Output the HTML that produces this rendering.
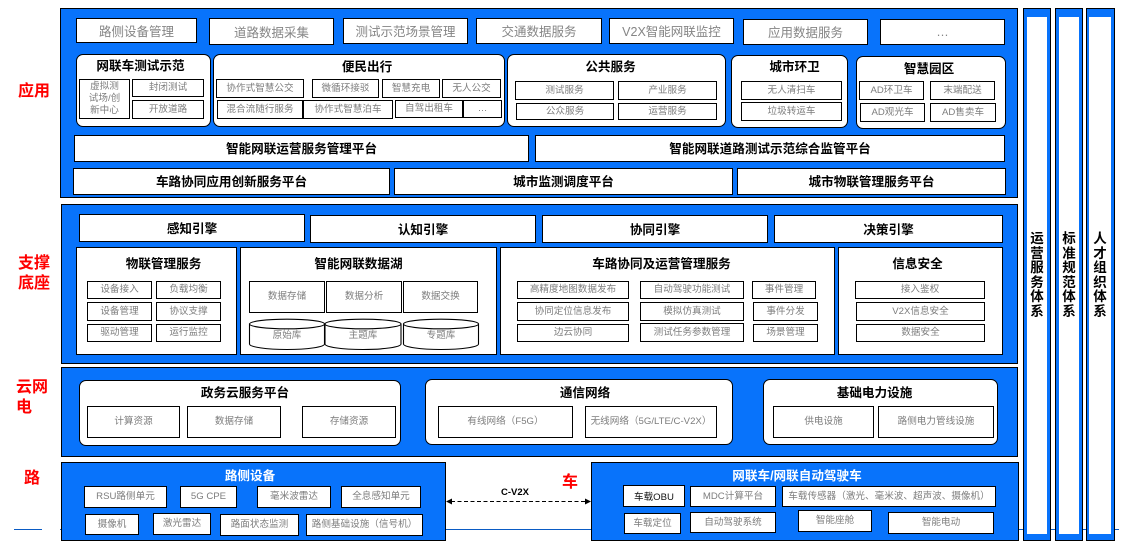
<!DOCTYPE html>
<html lang="zh">
<head>
<meta charset="utf-8">
<style>
html,body{margin:0;padding:0;background:#fff}
#p{position:relative;width:1134px;height:549px;overflow:hidden;background:#fff;font-family:"Liberation Sans","Noto Sans CJK SC",sans-serif}
#p div{position:absolute;box-sizing:border-box}
.pn{background:#0873fb;border:1.3px solid #000}
.b,.g,.s,.k{background:#fff;border:1.3px solid #000;display:flex;align-items:center;justify-content:center;text-align:center;white-space:nowrap}
.g{color:#858585;font-size:12.5px;padding-bottom:1px}
.s{color:#7d7d7d;font-size:9.6px;line-height:12px}
.k{color:#111;font-size:9.6px}
.b{color:#000;font-size:12.6px;font-weight:bold;padding-bottom:2px}
.c{background:#fff;border:1.2px solid #000;border-radius:7px}
.t{color:#000;font-size:12.6px;font-weight:bold;text-align:center;line-height:16px;height:16px;white-space:nowrap}
.w{color:#fff}
.r{color:#f00;font-size:16px;font-weight:bold;line-height:20px;white-space:nowrap}
.col{background:#fff}
.v{color:#000;font-size:13.5px;font-weight:bold;line-height:14.5px;text-align:center;width:20px}
.l{background:#0a5bc4;height:1px}
.cy{color:#7d7d7d;font-size:9.6px;text-align:center;line-height:12px;height:12px}
</style>
</head>
<body>
<div id="p">
<div class="l" style="left:14px;top:529px;width:28px"></div>
<div class="l" style="left:60px;top:529px;width:2px"></div>
<div class="l" style="left:445px;top:529px;width:147px"></div>
<div class="l" style="left:1017px;top:529px;width:102px"></div>

<div class="r" style="left:18px;top:82px">应用</div>
<div class="r" style="left:18px;top:254px">支撑</div>
<div class="r" style="left:18px;top:274px">底座</div>
<div class="r" style="left:16px;top:378px">云网</div>
<div class="r" style="left:16px;top:398px">电</div>
<div class="r" style="left:24px;top:469px">路</div>
<div class="r" style="left:562px;top:473px">车</div>

<!-- 应用 -->
<div class="pn" style="left:60px;top:8px;width:958px;height:190px"></div>
<div class="g" style="left:76px;top:18px;width:121px;height:25px">路侧设备管理</div>
<div class="g" style="left:209px;top:18px;width:125px;height:27px">道路数据采集</div>
<div class="g" style="left:343px;top:18px;width:125px;height:26px">测试示范场景管理</div>
<div class="g" style="left:476px;top:18px;width:126px;height:26px">交通数据服务</div>
<div class="g" style="left:609px;top:18px;width:125px;height:26px">V2X智能网联监控</div>
<div class="g" style="left:743px;top:19px;width:125px;height:26px">应用数据服务</div>
<div class="g" style="left:880px;top:19px;width:125px;height:26px">…</div>

<div class="c" style="left:76px;top:54px;width:135px;height:73px"></div>
<div class="t" style="left:73px;top:58px;width:135px">网联车测试示范</div>
<div class="s" style="left:79px;top:79px;width:51px;height:40px">虚拟测<br>试场/创<br>新中心</div>
<div class="s" style="left:132px;top:79px;width:72px;height:18px">封闭测试</div>
<div class="s" style="left:132px;top:100px;width:72px;height:19px">开放道路</div>

<div class="c" style="left:213px;top:54px;width:292px;height:73px"></div>
<div class="t" style="left:221px;top:59px;width:292px">便民出行</div>
<div class="s" style="left:216px;top:79px;width:88px;height:19px">协作式智慧公交</div>
<div class="s" style="left:312px;top:79px;width:67px;height:19px">微循环接驳</div>
<div class="s" style="left:382px;top:79px;width:58px;height:19px">智慧充电</div>
<div class="s" style="left:442px;top:79px;width:59px;height:19px">无人公交</div>
<div class="s" style="left:217px;top:100px;width:86px;height:19px">混合流随行服务</div>
<div class="s" style="left:303px;top:100px;width:90px;height:19px">协作式智慧泊车</div>
<div class="s" style="left:395px;top:100px;width:68px;height:18px">自驾出租车</div>
<div class="s" style="left:463px;top:100px;width:39px;height:18px">…</div>

<div class="c" style="left:507px;top:54px;width:219px;height:73px"></div>
<div class="t" style="left:501px;top:59px;width:219px">公共服务</div>
<div class="s" style="left:515px;top:81px;width:99px;height:19px">测试服务</div>
<div class="s" style="left:618px;top:81px;width:99px;height:19px">产业服务</div>
<div class="s" style="left:516px;top:103px;width:98px;height:17px">公众服务</div>
<div class="s" style="left:618px;top:103px;width:99px;height:17px">运营服务</div>

<div class="c" style="left:731px;top:55px;width:117px;height:73px"></div>
<div class="t" style="left:736px;top:59px;width:117px">城市环卫</div>
<div class="s" style="left:741px;top:81px;width:101px;height:19px">无人清扫车</div>
<div class="s" style="left:741px;top:102px;width:101px;height:19px">垃圾转运车</div>

<div class="c" style="left:856px;top:56px;width:150px;height:73px"></div>
<div class="t" style="left:854px;top:61px;width:150px">智慧园区</div>
<div class="s" style="left:859px;top:81px;width:65px;height:19px">AD环卫车</div>
<div class="s" style="left:930px;top:81px;width:65px;height:19px">末端配送</div>
<div class="s" style="left:860px;top:103px;width:65px;height:19px">AD观光车</div>
<div class="s" style="left:930px;top:103px;width:66px;height:19px">AD售卖车</div>

<div class="b" style="left:74px;top:135px;width:455px;height:27px">智能网联运营服务管理平台</div>
<div class="b" style="left:535px;top:135px;width:470px;height:27px">智能网联道路测试示范综合监管平台</div>
<div class="b" style="left:73px;top:168px;width:317px;height:27px">车路协同应用创新服务平台</div>
<div class="b" style="left:394px;top:168px;width:339px;height:27px">城市监测调度平台</div>
<div class="b" style="left:737px;top:168px;width:269px;height:27px">城市物联管理服务平台</div>

<!-- 支撑 -->
<div class="pn" style="left:61px;top:204px;width:957px;height:160px"></div>
<div class="b" style="left:79px;top:214px;width:226px;height:28px">感知引擎</div>
<div class="b" style="left:310px;top:215px;width:226px;height:28px">认知引擎</div>
<div class="b" style="left:542px;top:215px;width:226px;height:28px">协同引擎</div>
<div class="b" style="left:774px;top:215px;width:229px;height:28px">决策引擎</div>

<div class="k" style="left:76px;top:247px;width:161px;height:108px"></div>
<div class="t" style="left:83px;top:256px;width:161px">物联管理服务</div>
<div class="s" style="left:87px;top:281px;width:65px;height:18px">设备接入</div>
<div class="s" style="left:156px;top:281px;width:65px;height:18px">负载均衡</div>
<div class="s" style="left:87px;top:302px;width:65px;height:19px">设备管理</div>
<div class="s" style="left:156px;top:302px;width:65px;height:19px">协议支撑</div>
<div class="s" style="left:87px;top:324px;width:65px;height:18px">驱动管理</div>
<div class="s" style="left:156px;top:324px;width:65px;height:18px">运行监控</div>

<div class="k" style="left:240px;top:247px;width:257px;height:108px"></div>
<div class="t" style="left:230px;top:256px;width:257px">智能网联数据湖</div>
<div class="s" style="left:249px;top:281px;width:76px;height:32px">数据存储</div>
<div class="s" style="left:326px;top:281px;width:76px;height:32px">数据分析</div>
<div class="s" style="left:403px;top:281px;width:75px;height:32px">数据交换</div>
<svg style="position:absolute;left:0;top:0" width="1134" height="549" fill="#fff" stroke="#000" stroke-width="1.1">
<path d="M249.5 324v20c0 3 17 5.500 37.500 5.500s37.500-2.500 37.500-5.500v-20z"/><ellipse cx="287" cy="324" rx="37.500" ry="4.800"/>
<path d="M325 324v20c0 3 17 5.500 38 5.500s38-2.500 38-5.500v-20z"/><ellipse cx="363" cy="324" rx="38" ry="4.800"/>
<path d="M403.500 324v20c0 3 17 5.500 37.500 5.500s37.500-2.500 37.500-5.500v-20z"/><ellipse cx="441" cy="324" rx="37.500" ry="4.800"/>
</svg>
<div class="cy" style="left:249px;top:330px;width:76px">原始库</div>
<div class="cy" style="left:325px;top:330px;width:76px">主题库</div>
<div class="cy" style="left:403px;top:330px;width:76px">专题库</div>

<div class="k" style="left:500px;top:247px;width:335px;height:108px"></div>
<div class="t" style="left:494px;top:256px;width:335px">车路协同及运营管理服务</div>
<div class="s" style="left:517px;top:281px;width:112px;height:18px">高精度地图数据发布</div>
<div class="s" style="left:640px;top:281px;width:104px;height:18px">自动驾驶功能测试</div>
<div class="s" style="left:752px;top:281px;width:64px;height:18px">事件管理</div>
<div class="s" style="left:517px;top:302px;width:112px;height:19px">协同定位信息发布</div>
<div class="s" style="left:640px;top:302px;width:104px;height:19px">模拟仿真测试</div>
<div class="s" style="left:753px;top:302px;width:65px;height:19px">事件分发</div>
<div class="s" style="left:517px;top:324px;width:112px;height:18px">边云协同</div>
<div class="s" style="left:640px;top:323px;width:104px;height:19px">测试任务参数管理</div>
<div class="s" style="left:753px;top:324px;width:65px;height:18px">场景管理</div>

<div class="k" style="left:838px;top:247px;width:165px;height:108px"></div>
<div class="t" style="left:835px;top:256px;width:165px">信息安全</div>
<div class="s" style="left:855px;top:281px;width:130px;height:18px">接入鉴权</div>
<div class="s" style="left:856px;top:302px;width:129px;height:19px">V2X信息安全</div>
<div class="s" style="left:856px;top:324px;width:129px;height:18px">数据安全</div>

<!-- 云网电 -->
<div class="pn" style="left:61px;top:367px;width:957px;height:90px"></div>
<div class="c" style="left:79px;top:380px;width:322px;height:66px"></div>
<div class="t" style="left:84px;top:385px;width:322px">政务云服务平台</div>
<div class="s" style="left:87px;top:406px;width:93px;height:32px">计算资源</div>
<div class="s" style="left:187px;top:406px;width:94px;height:32px">数据存储</div>
<div class="s" style="left:302px;top:406px;width:94px;height:32px">存储资源</div>
<div class="c" style="left:425px;top:379px;width:308px;height:66px"></div>
<div class="t" style="left:431px;top:385px;width:308px">通信网络</div>
<div class="s" style="left:438px;top:406px;width:135px;height:32px">有线网络（F5G）</div>
<div class="s" style="left:585px;top:406px;width:132px;height:32px">无线网络（5G/LTE/C-V2X）</div>
<div class="c" style="left:763px;top:379px;width:235px;height:66px"></div>
<div class="t" style="left:757px;top:385px;width:235px">基础电力设施</div>
<div class="s" style="left:773px;top:406px;width:101px;height:32px">供电设施</div>
<div class="s" style="left:878px;top:406px;width:116px;height:32px">路侧电力管线设施</div>

<!-- 路 -->
<div class="pn" style="left:61px;top:462px;width:385px;height:79px"></div>
<div class="t w" style="left:61px;top:468px;width:378px">路侧设备</div>
<div class="s" style="left:84px;top:486px;width:83px;height:22px">RSU路侧单元</div>
<div class="s" style="left:180px;top:486px;width:57px;height:22px">5G CPE</div>
<div class="s" style="left:257px;top:486px;width:74px;height:22px">毫米波雷达</div>
<div class="s" style="left:341px;top:486px;width:80px;height:22px">全息感知单元</div>
<div class="s" style="left:85px;top:514px;width:54px;height:21px">摄像机</div>
<div class="s" style="left:153px;top:513px;width:58px;height:22px">激光雷达</div>
<div class="s" style="left:220px;top:514px;width:79px;height:22px">路面状态监测</div>
<div class="s" style="left:306px;top:514px;width:117px;height:22px">路侧基础设施（信号机）</div>

<!-- 车 -->
<div class="pn" style="left:591px;top:462px;width:428px;height:79px"></div>
<div class="t w" style="left:591px;top:468px;width:412px">网联车/网联自动驾驶车</div>
<div class="k" style="left:623px;top:485px;width:62px;height:22px">车载OBU</div>
<div class="s" style="left:690px;top:486px;width:86px;height:21px">MDC计算平台</div>
<div class="s" style="left:782px;top:486px;width:214px;height:21px">车载传感器（激光、毫米波、超声波、摄像机）</div>
<div class="s" style="left:624px;top:513px;width:57px;height:21px">车载定位</div>
<div class="s" style="left:690px;top:512px;width:86px;height:21px">自动驾驶系统</div>
<div class="s" style="left:798px;top:510px;width:74px;height:22px">智能座舱</div>
<div class="s" style="left:888px;top:512px;width:106px;height:22px">智能电动</div>

<!-- arrow -->
<svg style="position:absolute;left:0;top:0" width="1134" height="549">
<line x1="451" y1="501.500" x2="586" y2="501.500" stroke="#000" stroke-width="1" stroke-dasharray="4 2.500"/>
<polygon points="446,501.500 452,498.500 452,504.500" fill="#000"/>
<polygon points="591,501.500 585,498.500 585,504.500" fill="#000"/>
</svg>
<div class="t" style="left:485px;top:485px;width:60px;font-size:9.500px">C-V2X</div>

<!-- 右侧 -->
<div class="pn" style="left:1023px;top:8px;width:28px;height:533px"></div>
<div class="col" style="left:1027px;top:17px;width:20px;height:517px"></div>
<div class="pn" style="left:1055px;top:8px;width:28px;height:533px"></div>
<div class="col" style="left:1059px;top:17px;width:20px;height:517px"></div>
<div class="pn" style="left:1086px;top:8px;width:29px;height:533px"></div>
<div class="col" style="left:1089px;top:17px;width:22px;height:517px"></div>
<div class="v" style="left:1027px;top:232px">运<br>营<br>服<br>务<br>体<br>系</div>
<div class="v" style="left:1059px;top:232px">标<br>准<br>规<br>范<br>体<br>系</div>
<div class="v" style="left:1090px;top:232px">人<br>才<br>组<br>织<br>体<br>系</div>
</div>
</body>
</html>
